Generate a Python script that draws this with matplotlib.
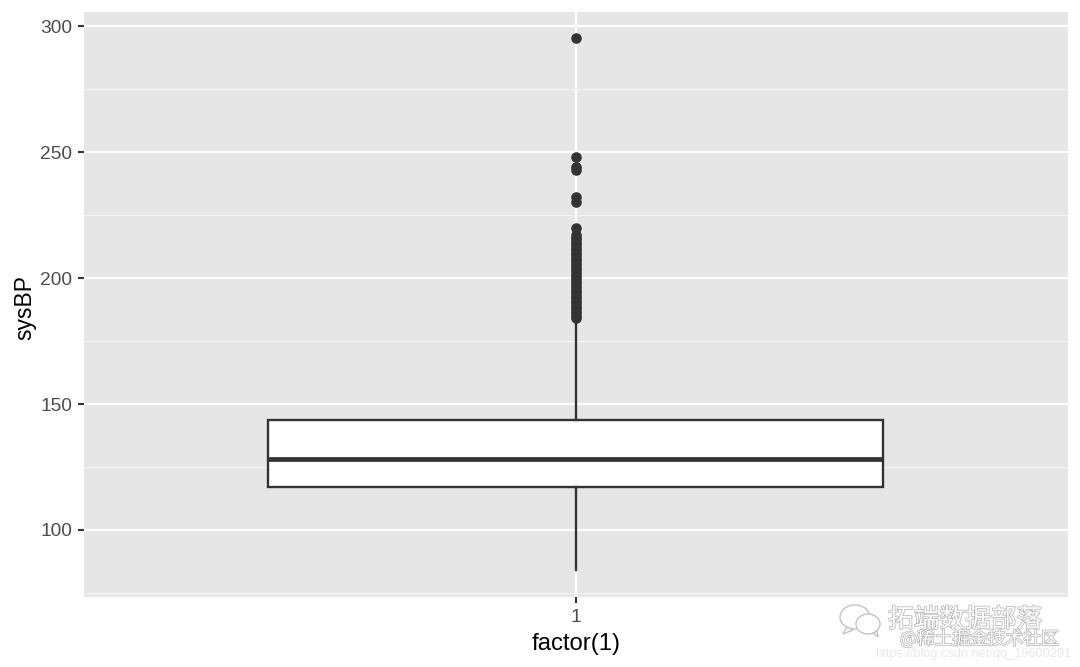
import matplotlib
matplotlib.use('Agg')
import matplotlib.pyplot as plt
import matplotlib.patheffects as pe
from matplotlib.patches import Ellipse, Polygon

group = '1'
q1, med, q3 = 117, 128, 143.5
whisker_low, whisker_high = 84, 183
outliers = [295.3, 248, 244, 243, 232, 230, 220, 217, 216, 215, 214, 213, 212, 211, 210,
            209, 208, 207, 206, 205, 204, 203, 202, 201, 200, 199, 198, 197, 196, 195,
            194, 193, 192, 191, 190, 189, 188, 187, 186, 185, 184]
major = [100, 150, 200, 250, 300]
minor = [75, 125, 175, 225, 275]

plt.rcParams['font.family'] = ['Liberation Sans', 'DejaVu Sans']

fig = plt.figure(figsize=(10.8, 6.67), dpi=100)
ax = fig.add_axes([84/1080, 1-597/667, 984/1080, 585/667])
ax.set_facecolor('#E6E6E6')

ax.set_axisbelow(True)
ax.set_yticks(major)
ax.set_yticks(minor, minor=True)
ax.grid(True, which='major', color='white', lw=1.5)
ax.grid(True, which='minor', axis='y', color='#F4F4F4', lw=1)
ax.tick_params(which='minor', length=0)

stats = [dict(med=med, q1=q1, q3=q3, whislo=whisker_low, whishi=whisker_high, fliers=outliers)]
ink = '#333333'
ax.bxp(stats, positions=[1], widths=0.75, patch_artist=True, showcaps=False,
       boxprops=dict(facecolor='white', edgecolor=ink, lw=1.7),
       medianprops=dict(color=ink, lw=3.4, solid_capstyle='butt'),
       whiskerprops=dict(color=ink, lw=1.7),
       flierprops=dict(marker='o', markerfacecolor=ink, markeredgecolor=ink, markersize=6.6))

ax.set_xlim(0.4, 1.6)
ax.set_ylim(73.4, 305.6)
ax.set_xticks([1])
ax.set_xticklabels([group])
for s in ax.spines.values():
    s.set_visible(False)
ax.tick_params(axis='both', which='major', length=4.5, width=1.5, color=ink,
               labelsize=13.8, labelcolor='#4D4D4D', pad=4)
ax.set_xlabel('factor(1)', fontsize=17.2, color='black', labelpad=5)
ax.set_ylabel('sysBP', fontsize=16.5, color='black', labelpad=3, y=0.495)

# watermark
hollow = [pe.withStroke(linewidth=1.1, foreground='#B5B5B5')]
fig.text(888/1080, 1-620/667, '拓端数据部落', fontsize=18.5, color='white', va='center',
         family=['Noto Sans CJK SC', 'DejaVu Sans'], path_effects=hollow)
fig.text(900/1080, 1-639/667, '@稀土掘金技术社区', fontsize=12.8, color='white', va='center',
         family=['Noto Sans CJK SC', 'DejaVu Sans'], path_effects=hollow)
fig.text(875/1080, 1-654/667, 'https://blog.csdn.net/qq_19600291', fontsize=9.2, color='#E8E8E8',
         va='center')

ov = fig.add_axes([0, 0, 1, 1], facecolor='none')
ov.set_xlim(0, 1080)
ov.set_ylim(667, 0)
ov.axis('off')
for cx, cy, w, h in [(855, 617, 30, 24), (868, 624, 24, 20)]:
    ov.add_patch(Ellipse((cx, cy), w, h, fc='white', ec='#C4C4C4', lw=1))
ov.add_patch(Polygon([(847, 627), (843, 634), (853, 630)], fc='white', ec='#C4C4C4', lw=1))
ov.add_patch(Polygon([(873, 633), (878, 637), (877, 631)], fc='white', ec='#C4C4C4', lw=1))

fig.savefig('out.png', dpi=100)
